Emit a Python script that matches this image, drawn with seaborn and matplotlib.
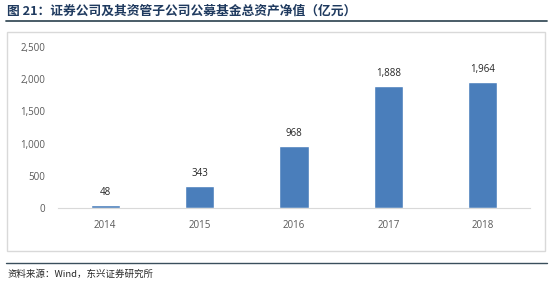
import matplotlib
matplotlib.use("Agg")
import matplotlib.pyplot as plt
import seaborn as sns
import pandas as pd
from matplotlib.patches import Rectangle
from matplotlib.lines import Line2D
from matplotlib.ticker import FuncFormatter

years = ["2014", "2015", "2016", "2017", "2018"]
values = [48, 343, 968, 1888, 1964]
yticks = [0, 500, 1000, 1500, 2000, 2500]
title = "图 21：证券公司及其资管子公司公募基金总资产净值（亿元）"
source = "资料来源：Wind，东兴证券研究所"

sns.set_theme(style="white")
plt.rcParams['font.family'] = ['Noto Sans CJK SC', 'DejaVu Sans']
num_font = ['Open Sans', 'DejaVu Sans']

W, H = 550, 283
fig = plt.figure(figsize=(W / 100, H / 100), dpi=100)

def fx(px):
    return px / W

def fy(py):
    return 1 - py / H

# axes: x 58..530, y 47..208
ax = fig.add_axes([fx(58), fy(208), fx(530 - 58), (208 - 47) / H])
df = pd.DataFrame({"year": years, "value": values})
sns.barplot(data=df, x="year", y="value", color="#4a7ebb", saturation=1,
            width=0.31, ax=ax)
ax.set_ylim(0, 2500)
ax.set_yticks(yticks)
ax.yaxis.set_major_formatter(FuncFormatter(lambda v, p: f"{int(v):,}"))
ax.set_xlabel("")
ax.set_ylabel("")
for s in ["top", "right", "left"]:
    ax.spines[s].set_visible(False)
ax.spines["bottom"].set_color("#d9d9d9")
ax.spines["bottom"].set_linewidth(0.8)
ax.tick_params(axis="both", length=0, labelsize=7, colors="#595959")
ax.tick_params(axis="y", pad=9)
ax.tick_params(axis="x", pad=9)
for lab in ax.get_xticklabels() + ax.get_yticklabels():
    lab.set_family(num_font)
for c in ax.containers:
    ax.bar_label(c, labels=[f"{v:,}" for v in values], padding=5,
                 fontsize=7, color="#262626", family=num_font)
ax.patch.set_alpha(0)

# frame box
fig.patches.append(Rectangle((fx(7), fy(251)), fx(545 - 7), (251 - 32) / H,
                             transform=fig.transFigure, fill=False,
                             edgecolor="#d9d9d9", linewidth=1.0, zorder=0))
# title rule and bottom rule
fig.lines.append(Line2D([fx(6), fx(547)], [fy(21), fy(21)],
                        transform=fig.transFigure, color="#3a4f5c", linewidth=1.3))
fig.lines.append(Line2D([fx(6), fx(547)], [fy(263), fy(263)],
                        transform=fig.transFigure, color="#3a4f5c", linewidth=1.0))

fig.text(fx(7), fy(11), title, fontsize=9.2, fontweight="bold",
         color="#1f3a5f", ha="left", va="center")
fig.text(fx(7), fy(274), source, fontsize=6.8, color="#262626",
         ha="left", va="center", style="italic")

fig.savefig("out.png", dpi=100)
